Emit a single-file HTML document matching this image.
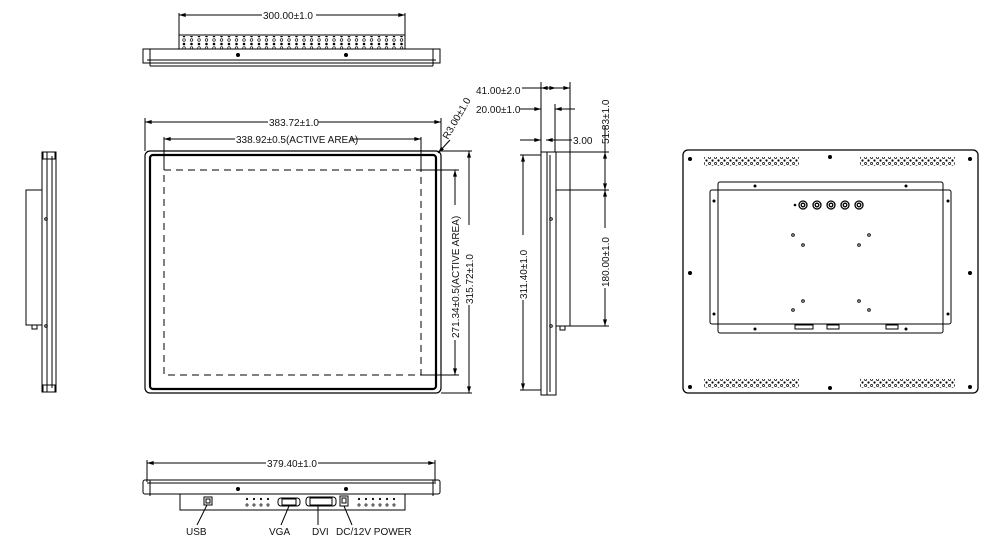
<!DOCTYPE html>
<html><head><meta charset="utf-8"><style>
html,body{margin:0;padding:0;background:#fff;width:1002px;height:540px;overflow:hidden}
svg{display:block}
text{font-family:"Liberation Sans",sans-serif;font-size:10px;fill:#111}
</style></head><body>
<svg width="1002" height="540" viewBox="0 0 1002 540" xmlns="http://www.w3.org/2000/svg">
<defs>
<marker id="a" viewBox="0 0 10 6" refX="10" refY="3" markerWidth="10" markerHeight="4" orient="auto-start-reverse" markerUnits="userSpaceOnUse"><path d="M0,0L10,3L0,6z" fill="#000"/></marker>
<pattern id="vent" x="181" y="38" width="7.5" height="8" patternUnits="userSpaceOnUse"><circle cx="3" cy="2" r="1.3" fill="none" stroke="#000" stroke-width="0.7"/><circle cx="3" cy="6" r="1.3" fill="#000"/></pattern>
<pattern id="rv" x="0" y="0" width="6" height="6" patternUnits="userSpaceOnUse"><circle cx="1.5" cy="1.5" r="1.1" fill="none" stroke="#000" stroke-width="0.7"/><circle cx="4.5" cy="4.5" r="1.1" fill="#000"/></pattern>
</defs>
<g stroke="#000" fill="none" stroke-width="1">
<!-- TOP VIEW -->
<line x1="179" y1="13" x2="179" y2="35"/><line x1="405" y1="13" x2="405" y2="35"/>
<line x1="179" y1="15" x2="262" y2="15" marker-start="url(#a)"/><line x1="316" y1="15" x2="405" y2="15" marker-end="url(#a)"/>
<rect x="179" y="35" width="226" height="14"/>
<rect x="180" y="36" width="224" height="13" fill="url(#vent)" stroke="none"/>
<rect x="143" y="49" width="297" height="14"/>
<line x1="147" y1="60" x2="436" y2="60"/><line x1="150" y1="49" x2="150" y2="66"/><line x1="433" y1="49" x2="433" y2="66"/>
<line x1="150" y1="66" x2="433" y2="66"/>
<circle cx="238" cy="55" r="1.5" fill="#000"/><circle cx="346" cy="55" r="1.5" fill="#000"/>

<!-- FRONT VIEW -->
<line x1="145" y1="118" x2="145" y2="151"/><line x1="441" y1="118" x2="441" y2="151"/>
<line x1="145" y1="122" x2="268" y2="122" marker-start="url(#a)"/><line x1="318" y1="122" x2="441" y2="122" marker-end="url(#a)"/>
<line x1="164" y1="137" x2="164" y2="170"/><line x1="421" y1="137" x2="421" y2="170"/>
<line x1="164" y1="139" x2="235" y2="139" marker-start="url(#a)"/><line x1="350" y1="139" x2="421" y2="139" marker-end="url(#a)"/>
<rect x="145" y="151" width="296" height="242" rx="5" stroke-width="1.2"/>
<rect x="150" y="155" width="286" height="234" rx="3" stroke-width="2.2"/>
<rect x="164" y="170" width="257" height="205" stroke-dasharray="7,5"/>
<line x1="421" y1="170" x2="459" y2="170"/><line x1="421" y1="375" x2="459" y2="375"/>
<line x1="441" y1="151" x2="472" y2="151"/><line x1="441" y1="393" x2="472" y2="393"/>
<line x1="455" y1="170" x2="455" y2="205" marker-start="url(#a)"/><line x1="455" y1="340" x2="455" y2="375" marker-end="url(#a)"/>
<line x1="469" y1="151" x2="469" y2="225" marker-start="url(#a)"/><line x1="469" y1="305" x2="469" y2="393" marker-end="url(#a)"/>
<line x1="438" y1="153" x2="450" y2="140" marker-start="url(#a)"/>

<!-- LEFT SIDE VIEW -->
<rect x="42" y="152" width="14" height="240"/>
<line x1="47" y1="152" x2="47" y2="392"/><line x1="52" y1="156" x2="52" y2="388"/>
<rect x="43" y="152" width="12" height="7"/><rect x="43" y="385" width="12" height="7"/>
<rect x="26" y="190" width="16" height="135"/>
<rect x="32" y="325" width="5" height="4"/>
<circle cx="46" cy="219" r="1.3"/><circle cx="46" cy="326" r="1.3"/>

<!-- RIGHT SIDE VIEW -->
<line x1="541" y1="82" x2="541" y2="152"/><line x1="570" y1="82" x2="570" y2="190"/><line x1="555" y1="104" x2="555" y2="152"/>
<line x1="522" y1="88" x2="541" y2="88"/><line x1="541" y1="88" x2="556" y2="88" marker-end="url(#a)" marker-start="url(#a)"/>
<line x1="556" y1="88" x2="570" y2="88" marker-end="url(#a)"/>
<line x1="520" y1="109" x2="541" y2="109" marker-end="url(#a)"/><line x1="575" y1="109" x2="555" y2="109" marker-end="url(#a)"/>
<line x1="520" y1="140" x2="541" y2="140" marker-end="url(#a)"/><line x1="555" y1="140" x2="546" y2="140" marker-end="url(#a)"/><line x1="555" y1="140" x2="572" y2="140"/>
<line x1="541" y1="152" x2="609" y2="152"/>
<rect x="541" y="152" width="6" height="243"/>
<rect x="547" y="152" width="9" height="243"/>
<line x1="550" y1="155" x2="550" y2="392"/>
<rect x="556" y="190" width="14" height="136"/>
<line x1="556" y1="190" x2="609" y2="190"/><line x1="570" y1="326" x2="609" y2="326"/>
<rect x="560" y="326" width="5" height="4"/>
<line x1="520" y1="155" x2="541" y2="155"/><line x1="520" y1="390" x2="541" y2="390"/>
<line x1="523" y1="155" x2="523" y2="235" marker-start="url(#a)"/><line x1="523" y1="300" x2="523" y2="390" marker-end="url(#a)"/>
<line x1="605" y1="152" x2="605" y2="190" marker-start="url(#a)" marker-end="url(#a)"/>
<line x1="605" y1="126" x2="605" y2="152"/>
<line x1="605" y1="190" x2="605" y2="228" marker-start="url(#a)"/><line x1="605" y1="288" x2="605" y2="326" marker-end="url(#a)"/>
<circle cx="551" cy="219" r="1.3"/><circle cx="551" cy="326" r="1.3"/>

<!-- REAR VIEW -->
<rect x="683" y="150" width="295" height="243" rx="5" stroke-width="1.3"/>
<rect x="718" y="182" width="225" height="151" rx="2"/>
<rect x="710" y="190" width="241" height="134" rx="2"/>
<rect x="795" y="325" width="18" height="4"/><rect x="827" y="325" width="12" height="4"/><rect x="886" y="325" width="12" height="4"/>
<g fill="#000" stroke="none">
<circle cx="690" cy="159" r="2"/><circle cx="830" cy="157" r="2"/><circle cx="970" cy="159" r="2"/>
<circle cx="690" cy="273" r="2"/><circle cx="970" cy="273" r="2"/>
<circle cx="690" cy="387" r="2"/><circle cx="830" cy="388" r="2"/><circle cx="970" cy="387" r="2"/>
<circle cx="755" cy="186" r="1.5"/><circle cx="906" cy="186" r="1.5"/><circle cx="755" cy="329" r="1.5"/><circle cx="906" cy="329" r="1.5"/>
<circle cx="714" cy="201" r="1.5"/><circle cx="948" cy="201" r="1.5"/><circle cx="714" cy="314" r="1.5"/><circle cx="948" cy="314" r="1.5"/>
<circle cx="795" cy="205" r="1.3"/>
</g>
<rect x="704" y="157" width="95" height="9" fill="url(#rv)" stroke="none"/>
<rect x="860" y="157" width="95" height="9" fill="url(#rv)" stroke="none"/>
<rect x="704" y="379" width="95" height="9" fill="url(#rv)" stroke="none"/>
<rect x="860" y="379" width="95" height="9" fill="url(#rv)" stroke="none"/>
<g stroke-width="1.3">
<circle cx="803" cy="205" r="4"/><circle cx="803" cy="205" r="1.8"/>
<circle cx="817" cy="205" r="4"/><circle cx="817" cy="205" r="1.8"/>
<circle cx="831" cy="205" r="4"/><circle cx="831" cy="205" r="1.8"/>
<circle cx="845" cy="205" r="4"/><circle cx="845" cy="205" r="1.8"/>
<circle cx="859" cy="205" r="4"/><circle cx="859" cy="205" r="1.8"/>
</g>
<circle cx="793" cy="235" r="1.3"/><circle cx="869" cy="235" r="1.3"/><circle cx="803" cy="245" r="1.3"/><circle cx="859" cy="245" r="1.3"/>
<circle cx="803" cy="301" r="1.3"/><circle cx="859" cy="301" r="1.3"/><circle cx="793" cy="310" r="1.3"/><circle cx="869" cy="310" r="1.3"/>

<!-- BOTTOM VIEW -->
<line x1="147" y1="460" x2="147" y2="482"/><line x1="435" y1="460" x2="435" y2="482"/>
<line x1="147" y1="463" x2="266" y2="463" marker-start="url(#a)"/><line x1="318" y1="463" x2="435" y2="463" marker-end="url(#a)"/>
<rect x="143" y="480" width="297" height="14" rx="2"/>
<line x1="147" y1="483" x2="436" y2="483"/><line x1="150" y1="480" x2="150" y2="496"/><line x1="433" y1="480" x2="433" y2="496"/>
<circle cx="238" cy="489" r="1.5" fill="#000"/><circle cx="346" cy="489" r="1.5" fill="#000"/>
<rect x="180" y="494" width="225" height="16"/>
<rect x="204" y="497" width="8" height="8"/><rect x="206" y="499" width="4" height="4"/>
<rect x="278" y="498" width="22" height="8" rx="3"/><rect x="282" y="499" width="14" height="6"/>
<rect x="306" y="497" width="30" height="9" rx="3"/><rect x="310" y="498" width="22" height="7"/>
<rect x="340" y="496" width="8" height="10"/><rect x="342" y="498" width="4" height="5"/>
<line x1="207" y1="505" x2="197" y2="525"/><line x1="289" y1="506" x2="281" y2="525"/><line x1="318" y1="506" x2="318" y2="525"/><line x1="344" y1="506" x2="352" y2="525"/>
</g>
<g fill="#000">
<circle cx="247" cy="499" r="1.1"/><circle cx="254" cy="499" r="1.1"/><circle cx="261" cy="499" r="1.1"/><circle cx="268" cy="499" r="1.1"/>
<circle cx="359" cy="499" r="1.1"/><circle cx="366" cy="499" r="1.1"/><circle cx="373" cy="499" r="1.1"/><circle cx="380" cy="499" r="1.1"/><circle cx="387" cy="499" r="1.1"/><circle cx="394" cy="499" r="1.1"/>
</g>
<g fill="none" stroke="#000" stroke-width="0.7">
<circle cx="247" cy="505" r="1.1"/><circle cx="254" cy="505" r="1.1"/><circle cx="261" cy="505" r="1.1"/><circle cx="268" cy="505" r="1.1"/>
<circle cx="359" cy="505" r="1.1"/><circle cx="366" cy="505" r="1.1"/><circle cx="373" cy="505" r="1.1"/><circle cx="380" cy="505" r="1.1"/><circle cx="387" cy="505" r="1.1"/><circle cx="394" cy="505" r="1.1"/>
</g>

<!-- TEXT -->
<text x="263" y="19">300.00±1.0</text>
<text x="269" y="126">383.72±1.0</text>
<text x="236" y="143">338.92±0.5(ACTIVE AREA)</text>
<text transform="translate(459,338) rotate(-90)">271.34±0.5(ACTIVE AREA)</text>
<text transform="translate(473,304) rotate(-90)">315.72±1.0</text>
<text transform="translate(448,140) rotate(-60)">R3.00±1.0</text>
<text x="476" y="94">41.00±2.0</text>
<text x="476" y="113">20.00±1.0</text>
<text x="573" y="144">3.00</text>
<text transform="translate(609,144) rotate(-90)">51.83±1.0</text>
<text transform="translate(527,299) rotate(-90)">311.40±1.0</text>
<text transform="translate(609,287) rotate(-90)">180.00±1.0</text>
<text x="267" y="467">379.40±1.0</text>
<text x="186" y="535">USB</text>
<text x="269" y="535">VGA</text>
<text x="312" y="535">DVI</text>
<text x="336" y="535">DC/12V POWER</text>
</svg>
</body></html>
